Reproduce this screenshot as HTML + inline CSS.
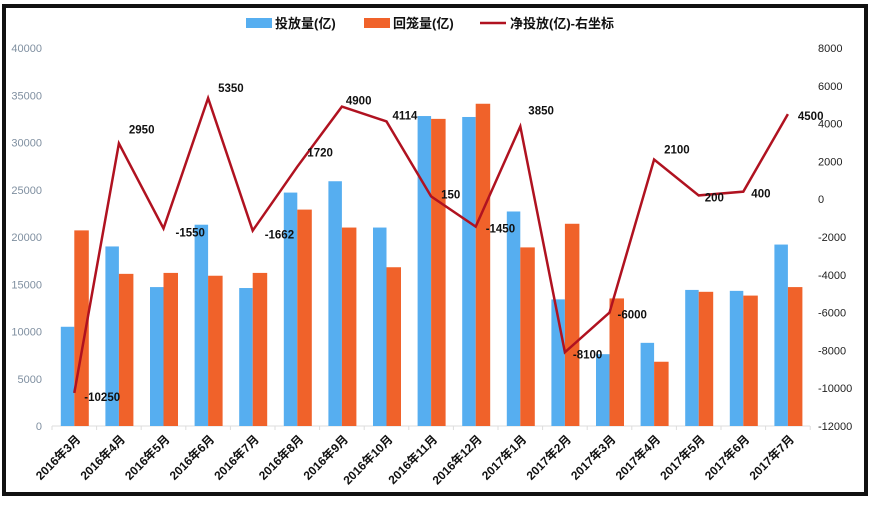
<!DOCTYPE html>
<html><head><meta charset="utf-8"><style>body{margin:0;background:#fff}svg{display:block}</style></head><body>
<svg width="870" height="508" xmlns="http://www.w3.org/2000/svg" font-family="Liberation Sans, Noto Sans CJK SC, sans-serif">
<rect x="0" y="0" width="870" height="508" fill="#fff"/>
<rect x="4" y="6" width="862" height="488" fill="none" stroke="#111" stroke-width="4"/>
<g id="g"></g>
</svg>
<script>
(function(){
const S="http://www.w3.org/2000/svg",g=document.getElementById('g');
function el(t,a,txt){const e=document.createElementNS(S,t);for(const k in a)e.setAttribute(k,a[k]);if(txt!=null)e.textContent=txt;g.appendChild(e);return e;}
const y0=426,T=48,H=y0-T;
const yl=v=>y0-v/40000*H, yr=v=>T+(8000-v)/20000*H;
const cx=i=>74.3+44.6*i;
const blue=[10500,19000,14700,21300,14600,24700,25900,21000,32800,32700,22700,13400,7600,8800,14400,14300,19200];
const org=[20700,16100,16200,15900,16200,22900,21000,16800,32500,34100,18900,21400,13500,6800,14200,13800,14700];
const net=[-10250,2950,-1550,5350,-1662,1720,4900,4114,150,-1450,3850,-8100,-6000,2100,200,400,4500];
const lab=['2016年3月','2016年4月','2016年5月','2016年6月','2016年7月','2016年8月','2016年9月','2016年10月','2016年11月','2016年12月','2017年1月','2017年2月','2017年3月','2017年4月','2017年5月','2017年6月','2017年7月'];
for(let k=0;k<=8;k++){el('text',{x:42,y:yl(k*5000)+4,'text-anchor':'end','font-size':11,fill:'#7f8fa0'},k*5000);}
for(let k=0;k<=10;k++){let v=-12000+k*2000;el('text',{x:818,y:yr(v)+4,'font-size':11,fill:'#222'},v);}
el('line',{x1:52,y1:y0,x2:810,y2:y0,stroke:'#ddd'});
for(let i=0;i<=17;i++)el('line',{x1:52+44.6*i,y1:y0,x2:52+44.6*i,y2:y0+4,stroke:'#ddd'});
for(let i=0;i<17;i++){
 el('rect',{x:cx(i)-13.5,y:yl(blue[i]),width:13.5,height:y0-yl(blue[i]),fill:'#56aef0'});
 el('rect',{x:cx(i),y:yl(org[i]),width:14.5,height:y0-yl(org[i]),fill:'#f0622a'});
 el('text',{x:0,y:0,'font-size':12,'font-weight':'bold',fill:'#111','text-anchor':'end',transform:'translate('+(cx(i)+7)+','+(y0+14)+') rotate(-45)'},lab[i]);
}
el('polyline',{points:net.map((v,i)=>cx(i)+','+yr(v)).join(' '),fill:'none',stroke:'#b01220','stroke-width':2.5});
const off=[[10,8],[10,-10],[12,8],[10,-6],[12,8],[10,-10],[4,-2],[6,-2],[10,2],[10,6],[8,-12],[8,6],[8,6],[10,-6],[6,6],[8,6],[10,6]];
net.forEach((v,i)=>el('text',{x:cx(i)+off[i][0],y:yr(v)+off[i][1],'font-size':11.5,'font-weight':'bold',fill:'#111'},v));
el('rect',{x:246,y:18,width:26,height:10,fill:'#56aef0'});
el('text',{x:275,y:28,'font-size':13,'font-weight':'bold',fill:'#111'},'投放量(亿)');
el('rect',{x:364,y:18,width:26,height:10,fill:'#f0622a'});
el('text',{x:393,y:28,'font-size':13,'font-weight':'bold',fill:'#111'},'回笼量(亿)');
el('line',{x1:480,y1:23,x2:506,y2:23,stroke:'#b01220','stroke-width':2.5});
el('text',{x:510,y:28,'font-size':13,'font-weight':'bold',fill:'#111'},'净投放(亿)-右坐标');
})();
</script>
</body></html>
